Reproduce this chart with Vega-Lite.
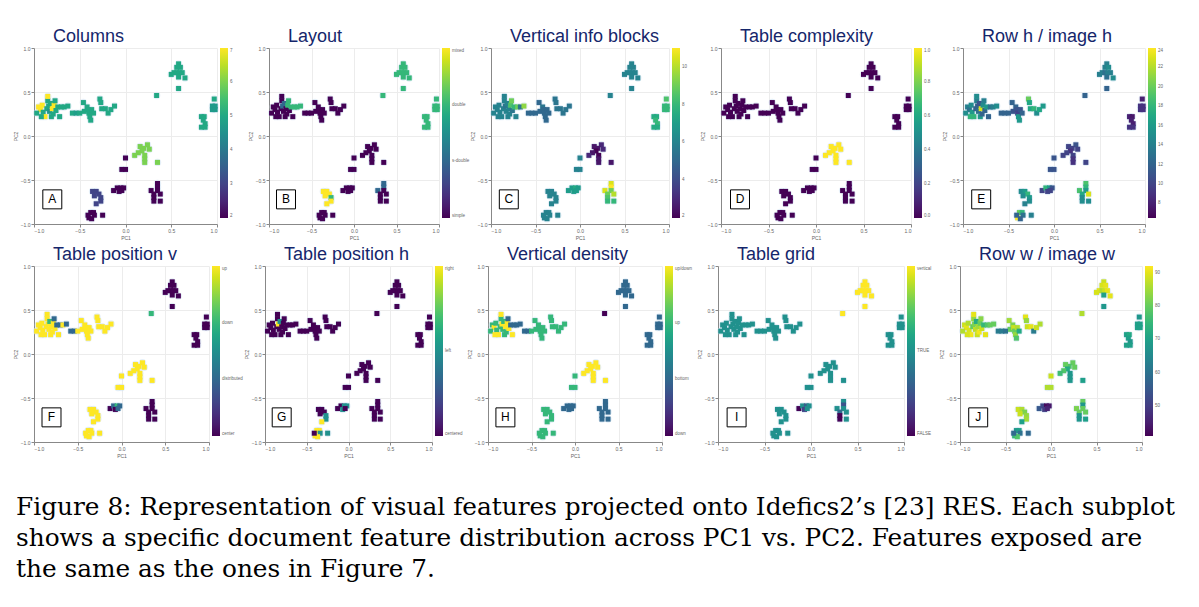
{
"$schema": "https://vega.github.io/schema/vega-lite/v6.json",
"background": "white",
"padding": {"left": 13, "top": 28, "right": 5, "bottom": 5},
"data": {"values": [
{"x":-0.95,"y":0.33,"a":7,"b":0,"c":6,"d":0,"e":14,"f":3,"g":0,"h":2,"i":1,"j":88},
{"x":-0.93,"y":0.30,"a":7,"b":0,"c":6,"d":0,"e":13,"f":3,"g":0,"h":3,"i":1,"j":90},
{"x":-0.91,"y":0.35,"a":7,"b":0,"c":6,"d":0,"e":15,"f":3,"g":0,"h":2,"i":1,"j":86},
{"x":-0.90,"y":0.27,"a":5,"b":0,"c":6,"d":0,"e":16,"f":3,"g":0,"h":2,"i":1,"j":89},
{"x":-0.88,"y":0.22,"a":7,"b":0,"c":6,"d":0,"e":18,"f":3,"g":0,"h":3,"i":1,"j":91},
{"x":-0.86,"y":0.31,"a":5,"b":0,"c":6,"d":0,"e":12,"f":3,"g":0,"h":2,"i":1,"j":80},
{"x":-0.85,"y":0.40,"a":5,"b":0,"c":6,"d":0,"e":14,"f":3,"g":0,"h":2,"i":1,"j":84},
{"x":-0.85,"y":0.45,"a":7,"b":0,"c":6,"d":0,"e":15,"f":3,"g":0,"h":3,"i":1,"j":90},
{"x":-0.84,"y":0.34,"a":5,"b":1,"c":5.5,"d":0,"e":12,"f":3,"g":2,"h":3,"i":1,"j":82},
{"x":-0.83,"y":0.28,"a":4.6,"b":0,"c":6,"d":0,"e":13,"f":3,"g":0,"h":2,"i":1,"j":87},
{"x":-0.82,"y":0.37,"a":5,"b":1,"c":6,"d":0,"e":11,"f":2,"g":1,"h":2,"i":1,"j":72},
{"x":-0.81,"y":0.22,"a":5,"b":0,"c":6,"d":0,"e":16,"f":3,"g":0,"h":2,"i":1,"j":88},
{"x":-0.80,"y":0.31,"a":7,"b":0,"c":6,"d":0,"e":23,"f":3,"g":0,"h":3,"i":1,"j":85},
{"x":-0.79,"y":0.25,"a":5,"b":0,"c":6,"d":0,"e":12,"f":3,"g":0,"h":2,"i":1,"j":91},
{"x":-0.78,"y":0.35,"a":7,"b":2,"c":8.5,"d":0,"e":15,"f":3,"g":0,"h":3,"i":1,"j":80},
{"x":-0.77,"y":0.40,"a":5,"b":2,"c":9,"d":0,"e":14,"f":1,"g":0,"h":1,"i":1,"j":83},
{"x":-0.76,"y":0.29,"a":5,"b":0,"c":5.5,"d":0,"e":12,"f":3,"g":0,"h":3,"i":1,"j":88},
{"x":-0.74,"y":0.33,"a":5,"b":2,"c":8,"d":0,"e":16,"f":1,"g":0,"h":1,"i":1,"j":75},
{"x":-0.72,"y":0.22,"a":5,"b":0,"c":6,"d":0,"e":12,"f":3,"g":0,"h":3,"i":1,"j":90},
{"x":-0.70,"y":0.33,"a":5,"b":2,"c":9,"d":0,"e":13,"f":1,"g":0,"h":1,"i":1,"j":78},
{"x":-0.67,"y":0.33,"a":5,"b":2,"c":5.5,"d":0,"e":14,"f":3,"g":0,"h":1,"i":1,"j":80},
{"x":-0.97,"y":0.26,"a":5,"b":0,"c":6,"d":0,"e":15,"f":3,"g":0,"h":2,"i":1,"j":86},
{"x":-0.92,"y":0.22,"a":5,"b":0,"c":6,"d":0,"e":18,"f":3,"g":0,"h":3,"i":1,"j":89},
{"x":-0.63,"y":0.34,"a":5,"b":2,"c":9.5,"d":0,"e":15,"f":1,"g":0,"h":1,"i":1,"j":80},
{"x":-0.58,"y":0.26,"a":5,"b":0,"c":5,"d":0,"e":12,"f":1,"g":0,"h":1,"i":1,"j":62},
{"x":-0.54,"y":0.26,"a":4.8,"b":0,"c":5,"d":0,"e":12,"f":1,"g":0,"h":1,"i":1,"j":62},
{"x":-0.46,"y":0.38,"a":5,"b":0,"c":5,"d":0,"e":12,"f":3,"g":0,"h":2,"i":1,"j":85},
{"x":-0.45,"y":0.28,"a":5,"b":0,"c":5,"d":0,"e":11,"f":3,"g":0,"h":2,"i":1,"j":80},
{"x":-0.42,"y":0.33,"a":5,"b":0,"c":5.5,"d":0,"e":12,"f":3,"g":0,"h":2,"i":1,"j":82},
{"x":-0.41,"y":0.30,"a":5,"b":0,"c":5,"d":0,"e":11,"f":3,"g":0,"h":2,"i":1,"j":88},
{"x":-0.40,"y":0.26,"a":5,"b":0,"c":5,"d":0,"e":10,"f":3,"g":0,"h":2,"i":1,"j":80},
{"x":-0.39,"y":0.22,"a":5,"b":0,"c":5,"d":0,"e":16,"f":3,"g":0,"h":2,"i":1,"j":84},
{"x":-0.38,"y":0.18,"a":5,"b":0,"c":5,"d":0,"e":16,"f":3,"g":0,"h":2,"i":1,"j":78},
{"x":-0.37,"y":0.30,"a":5,"b":0,"c":5,"d":0,"e":11,"f":3,"g":0,"h":2,"i":1,"j":86},
{"x":-0.35,"y":0.26,"a":5,"b":0,"c":5,"d":0,"e":12,"f":3,"g":0,"h":2,"i":1,"j":72},
{"x":-0.50,"y":0.26,"a":5,"b":0,"c":5,"d":0,"e":12,"f":3,"g":0,"h":2,"i":1,"j":60},
{"x":-0.28,"y":0.42,"a":5,"b":0,"c":5.5,"d":0,"e":20,"f":3,"g":0,"h":2,"i":1,"j":90},
{"x":-0.27,"y":0.38,"a":5,"b":0,"c":5.5,"d":0,"e":17,"f":3,"g":0,"h":2,"i":1,"j":84},
{"x":-0.26,"y":0.31,"a":5,"b":0,"c":5.5,"d":0,"e":17,"f":3,"g":0,"h":2,"i":1,"j":88},
{"x":-0.22,"y":0.31,"a":5,"b":0,"c":5.5,"d":0,"e":18,"f":3,"g":0,"h":2,"i":1,"j":90},
{"x":-0.19,"y":0.26,"a":5,"b":0,"c":5.5,"d":0,"e":15,"f":3,"g":0,"h":2,"i":1,"j":62},
{"x":-0.16,"y":0.30,"a":5,"b":0,"c":5.5,"d":0,"e":17,"f":3,"g":0,"h":2,"i":1,"j":88},
{"x":-0.12,"y":0.34,"a":5,"b":0,"c":5.5,"d":0,"e":16,"f":3,"g":0,"h":2,"i":1,"j":86},
{"x":0.58,"y":0.82,"a":5,"b":2,"c":6,"d":0,"e":14,"f":0,"g":0,"h":1,"i":2,"j":88},
{"x":0.56,"y":0.78,"a":5,"b":2,"c":6,"d":0,"e":14,"f":0,"g":0,"h":1,"i":2,"j":89},
{"x":0.60,"y":0.78,"a":5,"b":2,"c":6,"d":0,"e":15,"f":0,"g":0,"h":1,"i":2,"j":90},
{"x":0.53,"y":0.72,"a":5,"b":2,"c":6,"d":0,"e":14,"f":0,"g":0,"h":1,"i":2,"j":90},
{"x":0.56,"y":0.72,"a":5,"b":2,"c":6,"d":0,"e":13,"f":0,"g":0,"h":1,"i":2,"j":86},
{"x":0.59,"y":0.72,"a":5,"b":2,"c":6,"d":0,"e":14,"f":0,"g":0,"h":1,"i":2,"j":88},
{"x":0.62,"y":0.72,"a":5,"b":2,"c":6,"d":0,"e":14,"f":0,"g":0,"h":1,"i":2,"j":90},
{"x":0.58,"y":0.67,"a":5,"b":2,"c":6,"d":0,"e":13,"f":0,"g":0,"h":1,"i":2,"j":70},
{"x":0.65,"y":0.66,"a":5,"b":2,"c":6,"d":0,"e":15,"f":0,"g":0,"h":1,"i":2,"j":90},
{"x":0.58,"y":0.54,"a":5,"b":2,"c":6,"d":0,"e":12,"f":0,"g":0,"h":1,"i":2,"j":68},
{"x":0.50,"y":0.70,"a":5,"b":2,"c":6,"d":0,"e":14,"f":0,"g":0,"h":1,"i":2,"j":89},
{"x":0.34,"y":0.46,"a":5,"b":2,"c":6,"d":0,"e":12,"f":2,"g":0,"h":0,"i":2,"j":86},
{"x":0.97,"y":0.42,"a":5,"b":2,"c":8.5,"d":0,"e":8,"f":0,"g":0,"h":1,"i":1,"j":68},
{"x":0.95,"y":0.34,"a":4.7,"b":2,"c":8,"d":0,"e":9,"f":0,"g":0,"h":1,"i":1,"j":70},
{"x":0.98,"y":0.34,"a":4.7,"b":2,"c":8,"d":0,"e":9,"f":0,"g":0,"h":1,"i":1,"j":70},
{"x":0.95,"y":0.30,"a":4.7,"b":2,"c":8,"d":0,"e":9,"f":0,"g":0,"h":1,"i":1,"j":70},
{"x":0.98,"y":0.30,"a":4.7,"b":2,"c":8,"d":0,"e":9,"f":0,"g":0,"h":1,"i":1,"j":70},
{"x":0.83,"y":0.22,"a":5,"b":2,"c":7.5,"d":0,"e":8,"f":0,"g":0,"h":1,"i":1,"j":70},
{"x":0.86,"y":0.22,"a":5,"b":2,"c":7.5,"d":0,"e":7.5,"f":0,"g":0,"h":1,"i":1,"j":72},
{"x":0.85,"y":0.18,"a":5,"b":2,"c":8,"d":0,"e":8,"f":0,"g":0,"h":1,"i":1,"j":70},
{"x":0.87,"y":0.14,"a":5,"b":2,"c":8,"d":0,"e":8,"f":0,"g":0,"h":1,"i":1,"j":68},
{"x":0.83,"y":0.10,"a":5,"b":2,"c":7.5,"d":0,"e":9,"f":0,"g":0,"h":1,"i":1,"j":70},
{"x":0.87,"y":0.10,"a":5,"b":2,"c":7.5,"d":0,"e":9,"f":0,"g":0,"h":1,"i":1,"j":70},
{"x":0.24,"y":-0.10,"a":6,"b":0,"c":3,"d":1,"e":11,"f":3,"g":0,"h":3,"i":1,"j":80},
{"x":0.20,"y":-0.14,"a":6,"b":0,"c":2.5,"d":1,"e":10,"f":3,"g":0,"h":3,"i":1,"j":78},
{"x":0.16,"y":-0.12,"a":6,"b":0,"c":2.5,"d":1,"e":10,"f":3,"g":0,"h":3,"i":1,"j":80},
{"x":0.18,"y":-0.17,"a":6,"b":0,"c":2,"d":1,"e":9,"f":3,"g":0,"h":3,"i":1,"j":72},
{"x":0.14,"y":-0.19,"a":6,"b":0,"c":2.5,"d":1,"e":10,"f":3,"g":0,"h":3,"i":1,"j":78},
{"x":0.10,"y":-0.22,"a":6,"b":0,"c":3,"d":1,"e":10,"f":3,"g":0,"h":3,"i":1,"j":76},
{"x":0.21,"y":-0.22,"a":6,"b":0,"c":2,"d":1,"e":10,"f":3,"g":0,"h":3,"i":1,"j":68},
{"x":0.21,"y":-0.26,"a":6,"b":0,"c":2.5,"d":1,"e":9,"f":3,"g":0,"h":3,"i":1,"j":68},
{"x":0.21,"y":-0.30,"a":6,"b":0,"c":2.5,"d":1,"e":9,"f":3,"g":0,"h":3,"i":1,"j":68},
{"x":0.35,"y":-0.30,"a":6,"b":0,"c":2.5,"d":1,"e":10,"f":3,"g":0,"h":3,"i":1,"j":70},
{"x":0.26,"y":-0.15,"a":6,"b":0,"c":3,"d":1,"e":10,"f":3,"g":0,"h":3,"i":1,"j":80},
{"x":0.0,"y":-0.25,"a":2,"b":0,"c":6,"d":0,"e":11,"f":3,"g":0,"h":2,"i":1,"j":88},
{"x":-0.04,"y":-0.38,"a":2,"b":0,"c":6,"d":0,"e":11,"f":3,"g":0,"h":2,"i":1,"j":86},
{"x":0.0,"y":-0.38,"a":2,"b":0,"c":6,"d":0,"e":11,"f":3,"g":0,"h":2,"i":1,"j":86},
{"x":-0.13,"y":-0.62,"a":2,"b":0,"c":7,"d":0,"e":10,"f":0,"g":0,"h":1,"i":0,"j":55},
{"x":-0.09,"y":-0.59,"a":2,"b":0,"c":7,"d":0,"e":18,"f":1,"g":0,"h":1,"i":1,"j":52},
{"x":-0.05,"y":-0.59,"a":2,"b":0,"c":7.5,"d":0,"e":16,"f":2,"g":1,"h":1,"i":0.6,"j":42},
{"x":-0.07,"y":-0.63,"a":2,"b":0,"c":7,"d":0,"e":10,"f":0,"g":1,"h":1,"i":0.4,"j":50},
{"x":-0.02,"y":-0.59,"a":2,"b":0,"c":7,"d":0,"e":11,"f":1,"g":1,"h":1,"i":1,"j":44},
{"x":-0.04,"y":-0.62,"a":2,"b":0,"c":7,"d":0,"e":10,"f":1,"g":0,"h":1,"i":1,"j":46},
{"x":0.35,"y":-0.54,"a":2,"b":1,"c":10.5,"d":0,"e":19,"f":0,"g":0,"h":1,"i":1,"j":80},
{"x":0.35,"y":-0.58,"a":2,"b":1,"c":11,"d":0,"e":18,"f":0,"g":0,"h":1,"i":0.5,"j":68},
{"x":0.35,"y":-0.62,"a":2,"b":0,"c":9,"d":0,"e":16,"f":0,"g":0,"h":1,"i":1,"j":80},
{"x":0.28,"y":-0.62,"a":2,"b":1,"c":10.5,"d":0,"e":19,"f":0,"g":0,"h":1,"i":1,"j":82},
{"x":0.31,"y":-0.66,"a":2,"b":0,"c":9,"d":0,"e":17,"f":0,"g":0,"h":1,"i":0.7,"j":80},
{"x":0.38,"y":-0.66,"a":2,"b":0,"c":10,"d":0,"e":23,"f":0,"g":0,"h":1,"i":1,"j":80},
{"x":0.31,"y":-0.70,"a":2,"b":0,"c":8.5,"d":0,"e":15,"f":0,"g":0,"h":1,"i":0,"j":68},
{"x":0.31,"y":-0.74,"a":2,"b":0,"c":8,"d":0,"e":15,"f":0,"g":0,"h":1,"i":0,"j":68},
{"x":0.38,"y":-0.74,"a":2,"b":0,"c":8,"d":0,"e":15,"f":0,"g":0,"h":1,"i":1,"j":70},
{"x":-0.36,"y":-0.63,"a":3,"b":3,"c":6,"d":0,"e":15,"f":3,"g":0,"h":2,"i":1,"j":88},
{"x":-0.32,"y":-0.63,"a":3,"b":3,"c":6,"d":0,"e":16,"f":3,"g":0,"h":2,"i":1,"j":86},
{"x":-0.29,"y":-0.66,"a":3,"b":3,"c":6,"d":0,"e":18,"f":3,"g":0,"h":2,"i":1,"j":82},
{"x":-0.27,"y":-0.70,"a":3,"b":2,"c":6,"d":0,"e":16,"f":3,"g":1,"h":2,"i":1,"j":84},
{"x":-0.27,"y":-0.74,"a":3,"b":3,"c":6,"d":0,"e":15,"f":3,"g":1,"h":2,"i":1,"j":85},
{"x":-0.32,"y":-0.77,"a":3,"b":3,"c":6,"d":0,"e":14,"f":3,"g":2,"h":2,"i":1,"j":70},
{"x":-0.34,"y":-0.68,"a":3,"b":3,"c":6,"d":0,"e":15,"f":3,"g":0,"h":2,"i":1,"j":88},
{"x":-0.38,"y":-0.87,"a":2,"b":0,"c":6,"d":0,"e":20,"f":3,"g":2,"h":2,"i":1,"j":68},
{"x":-0.35,"y":-0.87,"a":2,"b":0,"c":6,"d":0,"e":18,"f":3,"g":2,"h":2,"i":1,"j":70},
{"x":-0.34,"y":-0.90,"a":2,"b":0,"c":6,"d":0,"e":13,"f":3,"g":1,"h":2,"i":1,"j":60},
{"x":-0.40,"y":-0.93,"a":2,"b":0,"c":6,"d":0,"e":24,"f":3,"g":2,"h":2,"i":1,"j":75},
{"x":-0.37,"y":-0.94,"a":2,"b":0,"c":6,"d":0,"e":12,"f":3,"g":2,"h":2,"i":1,"j":78},
{"x":-0.41,"y":-0.90,"a":2,"b":0,"c":6,"d":0,"e":12,"f":3,"g":0,"h":2,"i":1,"j":58},
{"x":-0.25,"y":-0.90,"a":2,"b":0,"c":6,"d":0,"e":14,"f":3,"g":1,"h":2,"i":1,"j":58}
]},
"config": {
  "font": "Liberation Sans",
  "view": {"stroke": null},
  "axis": {"labelFontSize": 5, "labelColor": "#666", "titleFontSize": 5, "titleColor": "#666", "titleFontWeight": "normal", "titlePadding": 2, "gridColor": "#ececec", "domainColor": "#888", "tickColor": "#888", "tickSize": 3, "labelPadding": 1},
  "legend": {"gradientLength": 170, "gradientThickness": 8, "labelFontSize": 4.5, "labelColor": "#666", "offset": 3, "padding": 0, "labelOverlap": false, "gradientStrokeWidth": 0, "labelLimit": 60, "labelOffset": 2}
},
"title": {"text": ["Figure 8: Representation of visual features projected onto Idefics2’s [23] RES. Each subplot", "shows a specific document feature distribution across PC1 vs. PC2. Features exposed are", "the same as the ones in Figure 7."], "orient": "bottom", "anchor": "start", "frame": "group", "font": "DejaVu Serif", "fontSize": 24.8, "fontWeight": "normal", "lineHeight": 31, "color": "black", "offset": 37, "dx": -18},
"resolve": {"scale": {"color": "independent"}, "legend": {"color": "independent"}},
"spacing": 6,
"vconcat": [
{"bounds": "flush", "spacing": 52, "resolve": {"scale": {"color": "independent"}, "legend": {"color": "independent"}}, "hconcat": [
 {"title": {"text": "Columns", "anchor": "start", "frame": "group", "dx": 19, "offset": 0, "fontSize": 18, "color": "#15266b", "fontWeight": "normal"}, "width": 183, "height": 176,
  "layer": [
   {"mark": {"type": "circle", "size": 55, "color": "#d4e4f4", "opacity": 0.6}, "encoding": {"x": {"field": "x", "type": "quantitative", "scale": {"domain": [-1, 1], "nice": false}, "axis": {"values": [-1, -0.5, 0, 0.5, 1], "title": "PC1"}}, "y": {"field": "y", "type": "quantitative", "scale": {"domain": [-1, 1], "nice": false}, "axis": {"values": [-1, -0.5, 0, 0.5, 1], "title": "PC2"}}}},
   {"mark": {"type": "square", "size": 25, "opacity": 1}, "encoding": {"x": {"field": "x", "type": "quantitative"}, "y": {"field": "y", "type": "quantitative"}, "color": {"field": "a", "type": "quantitative", "scale": {"scheme": "viridis", "domain": [2, 7]}, "legend": {"title": null, "values": [2, 3, 4, 5, 6, 7]}}}},
   {"data": {"values": [{"letter": "A"}]}, "mark": {"type": "point", "shape": "square", "size": 360, "fill": "white", "filled": true, "stroke": "black", "strokeWidth": 1, "opacity": 1}, "encoding": {"x": {"datum": -0.8}, "y": {"datum": -0.72}}},
   {"data": {"values": [{"letter": "A"}]}, "mark": {"type": "text", "fontSize": 12, "color": "black"}, "encoding": {"x": {"datum": -0.8}, "y": {"datum": -0.72}, "text": {"field": "letter", "type": "nominal"}}}
  ]},
 {"title": {"text": "Layout", "anchor": "start", "frame": "group", "dx": 19, "offset": 0, "fontSize": 18, "color": "#15266b", "fontWeight": "normal"}, "width": 170, "height": 176,
  "layer": [
   {"mark": {"type": "circle", "size": 55, "color": "#d4e4f4", "opacity": 0.6}, "encoding": {"x": {"field": "x", "type": "quantitative", "scale": {"domain": [-1, 1], "nice": false}, "axis": {"values": [-1, -0.5, 0, 0.5, 1], "title": "PC1"}}, "y": {"field": "y", "type": "quantitative", "scale": {"domain": [-1, 1], "nice": false}, "axis": {"values": [-1, -0.5, 0, 0.5, 1], "title": "PC2"}}}},
   {"mark": {"type": "square", "size": 25, "opacity": 1}, "encoding": {"x": {"field": "x", "type": "quantitative"}, "y": {"field": "y", "type": "quantitative"}, "color": {"field": "b", "type": "quantitative", "scale": {"scheme": "viridis", "domain": [0, 3]}, "legend": {"title": null, "values": [0, 1, 2, 3], "labelExpr": "['simple','s-double','double','mixed'][datum.value]"}}}},
   {"data": {"values": [{"letter": "B"}]}, "mark": {"type": "point", "shape": "square", "size": 360, "fill": "white", "filled": true, "stroke": "black", "strokeWidth": 1, "opacity": 1}, "encoding": {"x": {"datum": -0.8}, "y": {"datum": -0.72}}},
   {"data": {"values": [{"letter": "B"}]}, "mark": {"type": "text", "fontSize": 12, "color": "black"}, "encoding": {"x": {"datum": -0.8}, "y": {"datum": -0.72}, "text": {"field": "letter", "type": "nominal"}}}
  ]},
 {"title": {"text": "Vertical info blocks", "anchor": "start", "frame": "group", "dx": 19, "offset": 0, "fontSize": 18, "color": "#15266b", "fontWeight": "normal"}, "width": 178, "height": 176,
  "layer": [
   {"mark": {"type": "circle", "size": 55, "color": "#d4e4f4", "opacity": 0.6}, "encoding": {"x": {"field": "x", "type": "quantitative", "scale": {"domain": [-1, 1], "nice": false}, "axis": {"values": [-1, -0.5, 0, 0.5, 1], "title": "PC1"}}, "y": {"field": "y", "type": "quantitative", "scale": {"domain": [-1, 1], "nice": false}, "axis": {"values": [-1, -0.5, 0, 0.5, 1], "title": "PC2"}}}},
   {"mark": {"type": "square", "size": 25, "opacity": 1}, "encoding": {"x": {"field": "x", "type": "quantitative"}, "y": {"field": "y", "type": "quantitative"}, "color": {"field": "c", "type": "quantitative", "scale": {"scheme": "viridis", "domain": [2, 11]}, "legend": {"title": null, "values": [2, 4, 6, 8, 10]}}}},
   {"data": {"values": [{"letter": "C"}]}, "mark": {"type": "point", "shape": "square", "size": 360, "fill": "white", "filled": true, "stroke": "black", "strokeWidth": 1, "opacity": 1}, "encoding": {"x": {"datum": -0.8}, "y": {"datum": -0.72}}},
   {"data": {"values": [{"letter": "C"}]}, "mark": {"type": "text", "fontSize": 12, "color": "black"}, "encoding": {"x": {"datum": -0.8}, "y": {"datum": -0.72}, "text": {"field": "letter", "type": "nominal"}}}
  ]},
 {"title": {"text": "Table complexity", "anchor": "start", "frame": "group", "dx": 19, "offset": 0, "fontSize": 18, "color": "#15266b", "fontWeight": "normal"}, "width": 190, "height": 176,
  "layer": [
   {"mark": {"type": "circle", "size": 55, "color": "#d4e4f4", "opacity": 0.6}, "encoding": {"x": {"field": "x", "type": "quantitative", "scale": {"domain": [-1, 1], "nice": false}, "axis": {"values": [-1, -0.5, 0, 0.5, 1], "title": "PC1"}}, "y": {"field": "y", "type": "quantitative", "scale": {"domain": [-1, 1], "nice": false}, "axis": {"values": [-1, -0.5, 0, 0.5, 1], "title": "PC2"}}}},
   {"mark": {"type": "square", "size": 25, "opacity": 1}, "encoding": {"x": {"field": "x", "type": "quantitative"}, "y": {"field": "y", "type": "quantitative"}, "color": {"field": "d", "type": "quantitative", "scale": {"scheme": "viridis", "domain": [0, 1]}, "legend": {"title": null, "values": [0, 0.2, 0.4, 0.6, 0.8, 1]}}}},
   {"data": {"values": [{"letter": "D"}]}, "mark": {"type": "point", "shape": "square", "size": 360, "fill": "white", "filled": true, "stroke": "black", "strokeWidth": 1, "opacity": 1}, "encoding": {"x": {"datum": -0.8}, "y": {"datum": -0.72}}},
   {"data": {"values": [{"letter": "D"}]}, "mark": {"type": "text", "fontSize": 12, "color": "black"}, "encoding": {"x": {"datum": -0.8}, "y": {"datum": -0.72}, "text": {"field": "letter", "type": "nominal"}}}
  ]},
 {"title": {"text": "Row h / image h", "anchor": "start", "frame": "group", "dx": 19, "offset": 0, "fontSize": 18, "color": "#15266b", "fontWeight": "normal"}, "width": 182, "height": 176,
  "layer": [
   {"mark": {"type": "circle", "size": 55, "color": "#d4e4f4", "opacity": 0.6}, "encoding": {"x": {"field": "x", "type": "quantitative", "scale": {"domain": [-1, 1], "nice": false}, "axis": {"values": [-1, -0.5, 0, 0.5, 1], "title": "PC1"}}, "y": {"field": "y", "type": "quantitative", "scale": {"domain": [-1, 1], "nice": false}, "axis": {"values": [-1, -0.5, 0, 0.5, 1], "title": "PC2"}}}},
   {"mark": {"type": "square", "size": 25, "opacity": 1}, "encoding": {"x": {"field": "x", "type": "quantitative"}, "y": {"field": "y", "type": "quantitative"}, "color": {"field": "e", "type": "quantitative", "scale": {"scheme": "viridis", "domain": [6.5, 24]}, "legend": {"title": null, "values": [8, 10, 12, 14, 16, 18, 20, 22, 24]}}}},
   {"data": {"values": [{"letter": "E"}]}, "mark": {"type": "point", "shape": "square", "size": 360, "fill": "white", "filled": true, "stroke": "black", "strokeWidth": 1, "opacity": 1}, "encoding": {"x": {"datum": -0.8}, "y": {"datum": -0.72}}},
   {"data": {"values": [{"letter": "E"}]}, "mark": {"type": "text", "fontSize": 12, "color": "black"}, "encoding": {"x": {"datum": -0.8}, "y": {"datum": -0.72}, "text": {"field": "letter", "type": "nominal"}}}
  ]}
 ]},
{"bounds": "flush", "spacing": 56, "resolve": {"scale": {"color": "independent"}, "legend": {"color": "independent"}}, "hconcat": [
 {"title": {"text": "Table position v", "anchor": "start", "frame": "group", "dx": 19, "offset": 0, "fontSize": 18, "color": "#15266b", "fontWeight": "normal"}, "width": 175, "height": 176,
  "layer": [
   {"mark": {"type": "circle", "size": 55, "color": "#d4e4f4", "opacity": 0.6}, "encoding": {"x": {"field": "x", "type": "quantitative", "scale": {"domain": [-1, 1], "nice": false}, "axis": {"values": [-1, -0.5, 0, 0.5, 1], "title": "PC1"}}, "y": {"field": "y", "type": "quantitative", "scale": {"domain": [-1, 1], "nice": false}, "axis": {"values": [-1, -0.5, 0, 0.5, 1], "title": "PC2"}}}},
   {"mark": {"type": "square", "size": 25, "opacity": 1}, "encoding": {"x": {"field": "x", "type": "quantitative"}, "y": {"field": "y", "type": "quantitative"}, "color": {"field": "f", "type": "quantitative", "scale": {"scheme": "viridis", "domain": [0, 3]}, "legend": {"title": null, "values": [0, 1, 2, 3], "labelExpr": "['center','distributed','down','up'][datum.value]"}}}},
   {"data": {"values": [{"letter": "F"}]}, "mark": {"type": "point", "shape": "square", "size": 360, "fill": "white", "filled": true, "stroke": "black", "strokeWidth": 1, "opacity": 1}, "encoding": {"x": {"datum": -0.8}, "y": {"datum": -0.72}}},
   {"data": {"values": [{"letter": "F"}]}, "mark": {"type": "text", "fontSize": 12, "color": "black"}, "encoding": {"x": {"datum": -0.8}, "y": {"datum": -0.72}, "text": {"field": "letter", "type": "nominal"}}}
  ]},
 {"title": {"text": "Table position h", "anchor": "start", "frame": "group", "dx": 19, "offset": 0, "fontSize": 18, "color": "#15266b", "fontWeight": "normal"}, "width": 167, "height": 176,
  "layer": [
   {"mark": {"type": "circle", "size": 55, "color": "#d4e4f4", "opacity": 0.6}, "encoding": {"x": {"field": "x", "type": "quantitative", "scale": {"domain": [-1, 1], "nice": false}, "axis": {"values": [-1, -0.5, 0, 0.5, 1], "title": "PC1"}}, "y": {"field": "y", "type": "quantitative", "scale": {"domain": [-1, 1], "nice": false}, "axis": {"values": [-1, -0.5, 0, 0.5, 1], "title": "PC2"}}}},
   {"mark": {"type": "square", "size": 25, "opacity": 1}, "encoding": {"x": {"field": "x", "type": "quantitative"}, "y": {"field": "y", "type": "quantitative"}, "color": {"field": "g", "type": "quantitative", "scale": {"scheme": "viridis", "domain": [0, 2]}, "legend": {"title": null, "values": [0, 1, 2], "labelExpr": "['centered','left','right'][datum.value]"}}}},
   {"data": {"values": [{"letter": "G"}]}, "mark": {"type": "point", "shape": "square", "size": 360, "fill": "white", "filled": true, "stroke": "black", "strokeWidth": 1, "opacity": 1}, "encoding": {"x": {"datum": -0.8}, "y": {"datum": -0.72}}},
   {"data": {"values": [{"letter": "G"}]}, "mark": {"type": "text", "fontSize": 12, "color": "black"}, "encoding": {"x": {"datum": -0.8}, "y": {"datum": -0.72}, "text": {"field": "letter", "type": "nominal"}}}
  ]},
 {"title": {"text": "Vertical density", "anchor": "start", "frame": "group", "dx": 19, "offset": 0, "fontSize": 18, "color": "#15266b", "fontWeight": "normal"}, "width": 174, "height": 176,
  "layer": [
   {"mark": {"type": "circle", "size": 55, "color": "#d4e4f4", "opacity": 0.6}, "encoding": {"x": {"field": "x", "type": "quantitative", "scale": {"domain": [-1, 1], "nice": false}, "axis": {"values": [-1, -0.5, 0, 0.5, 1], "title": "PC1"}}, "y": {"field": "y", "type": "quantitative", "scale": {"domain": [-1, 1], "nice": false}, "axis": {"values": [-1, -0.5, 0, 0.5, 1], "title": "PC2"}}}},
   {"mark": {"type": "square", "size": 25, "opacity": 1}, "encoding": {"x": {"field": "x", "type": "quantitative"}, "y": {"field": "y", "type": "quantitative"}, "color": {"field": "h", "type": "quantitative", "scale": {"scheme": "viridis", "domain": [0, 3]}, "legend": {"title": null, "values": [0, 1, 2, 3], "labelExpr": "['down','bottom','up','up/down'][datum.value]"}}}},
   {"data": {"values": [{"letter": "H"}]}, "mark": {"type": "point", "shape": "square", "size": 360, "fill": "white", "filled": true, "stroke": "black", "strokeWidth": 1, "opacity": 1}, "encoding": {"x": {"datum": -0.8}, "y": {"datum": -0.72}}},
   {"data": {"values": [{"letter": "H"}]}, "mark": {"type": "text", "fontSize": 12, "color": "black"}, "encoding": {"x": {"datum": -0.8}, "y": {"datum": -0.72}, "text": {"field": "letter", "type": "nominal"}}}
  ]},
 {"title": {"text": "Table grid", "anchor": "start", "frame": "group", "dx": 19, "offset": 0, "fontSize": 18, "color": "#15266b", "fontWeight": "normal"}, "width": 186, "height": 176,
  "layer": [
   {"mark": {"type": "circle", "size": 55, "color": "#d4e4f4", "opacity": 0.6}, "encoding": {"x": {"field": "x", "type": "quantitative", "scale": {"domain": [-1, 1], "nice": false}, "axis": {"values": [-1, -0.5, 0, 0.5, 1], "title": "PC1"}}, "y": {"field": "y", "type": "quantitative", "scale": {"domain": [-1, 1], "nice": false}, "axis": {"values": [-1, -0.5, 0, 0.5, 1], "title": "PC2"}}}},
   {"mark": {"type": "square", "size": 25, "opacity": 1}, "encoding": {"x": {"field": "x", "type": "quantitative"}, "y": {"field": "y", "type": "quantitative"}, "color": {"field": "i", "type": "quantitative", "scale": {"scheme": "viridis", "domain": [0, 2]}, "legend": {"title": null, "values": [0, 1, 2], "labelExpr": "['FALSE','TRUE','vertical'][datum.value]"}}}},
   {"data": {"values": [{"letter": "I"}]}, "mark": {"type": "point", "shape": "square", "size": 360, "fill": "white", "filled": true, "stroke": "black", "strokeWidth": 1, "opacity": 1}, "encoding": {"x": {"datum": -0.8}, "y": {"datum": -0.72}}},
   {"data": {"values": [{"letter": "I"}]}, "mark": {"type": "text", "fontSize": 12, "color": "black"}, "encoding": {"x": {"datum": -0.8}, "y": {"datum": -0.72}, "text": {"field": "letter", "type": "nominal"}}}
  ]},
 {"title": {"text": "Row w / image w", "anchor": "start", "frame": "group", "dx": 19, "offset": 0, "fontSize": 18, "color": "#15266b", "fontWeight": "normal"}, "width": 182, "height": 176,
  "layer": [
   {"mark": {"type": "circle", "size": 55, "color": "#d4e4f4", "opacity": 0.6}, "encoding": {"x": {"field": "x", "type": "quantitative", "scale": {"domain": [-1, 1], "nice": false}, "axis": {"values": [-1, -0.5, 0, 0.5, 1], "title": "PC1"}}, "y": {"field": "y", "type": "quantitative", "scale": {"domain": [-1, 1], "nice": false}, "axis": {"values": [-1, -0.5, 0, 0.5, 1], "title": "PC2"}}}},
   {"mark": {"type": "square", "size": 25, "opacity": 1}, "encoding": {"x": {"field": "x", "type": "quantitative"}, "y": {"field": "y", "type": "quantitative"}, "color": {"field": "j", "type": "quantitative", "scale": {"scheme": "viridis", "domain": [41, 92]}, "legend": {"title": null, "values": [50, 60, 70, 80, 90]}}}},
   {"data": {"values": [{"letter": "J"}]}, "mark": {"type": "point", "shape": "square", "size": 360, "fill": "white", "filled": true, "stroke": "black", "strokeWidth": 1, "opacity": 1}, "encoding": {"x": {"datum": -0.8}, "y": {"datum": -0.72}}},
   {"data": {"values": [{"letter": "J"}]}, "mark": {"type": "text", "fontSize": 12, "color": "black"}, "encoding": {"x": {"datum": -0.8}, "y": {"datum": -0.72}, "text": {"field": "letter", "type": "nominal"}}}
  ]}
 ]}
]
}
